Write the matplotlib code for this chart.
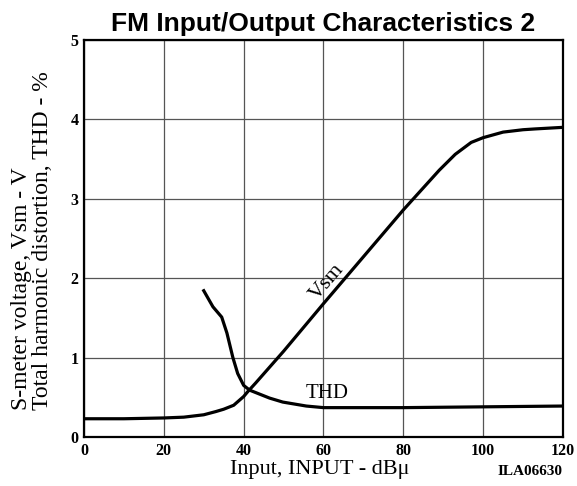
import numpy as np
import matplotlib
matplotlib.use("Agg")
from matplotlib import pyplot as plt

# Values
x_ticks = [0, 20, 40, 60, 80, 100, 120]
y_ticks = [0, 1, 2, 3, 4, 5]

vsm_input = [0, 10, 20, 25, 30, 33, 35, 37.5, 40, 41, 43, 46.5, 50, 60, 70, 80, 89, 93, 97, 100, 105, 110, 113, 120]
vsm_volts = [0.23, 0.23, 0.24, 0.25, 0.28, 0.32, 0.35, 0.40, 0.51, 0.57, 0.68, 0.88, 1.08, 1.68, 2.27, 2.86, 3.36, 3.56, 3.71, 3.77, 3.84, 3.87, 3.88, 3.90]

thd_input = [29.8, 32.3, 34.5, 35.8, 37.3, 38.5, 40, 41.5, 44, 46.5, 49.8, 55.7, 60, 70, 80, 100, 120]
thd_pct = [1.86, 1.64, 1.51, 1.31, 1.0, 0.8, 0.65, 0.59, 0.54, 0.49, 0.44, 0.39, 0.37, 0.37, 0.37, 0.38, 0.39]

fig = plt.figure(figsize=(5.77, 4.86), dpi=100)
ax = fig.add_axes([0.1456, 0.1008, 0.8301, 0.8169])

ax.plot(vsm_input, vsm_volts, color="black", lw=2.3, solid_capstyle="butt")
ax.plot(thd_input, thd_pct, color="black", lw=2.3, solid_capstyle="butt")

ax.set_xlim(0, 120)
ax.set_ylim(0, 5)
ax.set_xticks(x_ticks)
ax.set_yticks(y_ticks)
ax.grid(True, color="#555555", lw=0.9)
ax.tick_params(length=0, pad=4)
for lab in ax.get_xticklabels() + ax.get_yticklabels():
    lab.set_fontfamily("Liberation Serif")
    lab.set_fontweight("bold")
    lab.set_fontsize(11.5)
for sp in ax.spines.values():
    sp.set_linewidth(1.6)

ax.text(60.9, 1.95, "Vsm", rotation=49, ha="center", va="center",
        fontfamily="Liberation Serif", fontsize=16)
ax.text(60.8, 0.55, "THD", ha="center", va="center",
        fontfamily="Liberation Serif", fontsize=15)

fig.text(0.56, 0.95, "FM Input/Output Characteristics 2", ha="center", va="center",
         fontfamily="Liberation Sans", fontweight="bold", fontsize=19)
fig.text(0.555, 0.034, "Input, INPUT - d" + "B\u03bc", ha="center", va="center",
         fontfamily="Liberation Serif", fontsize=16)
fig.text(0.918, 0.030, "ILA06630", ha="center", va="center",
         fontfamily="Liberation Serif", fontweight="bold", fontsize=11)
fig.text(0.038, 0.157, "S-meter voltage, Vsm - V", rotation=90, ha="center", va="bottom",
         fontfamily="Liberation Serif", fontsize=17)
fig.text(0.074, 0.157, "Total harmonic distortion, THD - %", rotation=90, ha="center", va="bottom",
         fontfamily="Liberation Serif", fontsize=17)

fig.savefig("out.png", dpi=100)
